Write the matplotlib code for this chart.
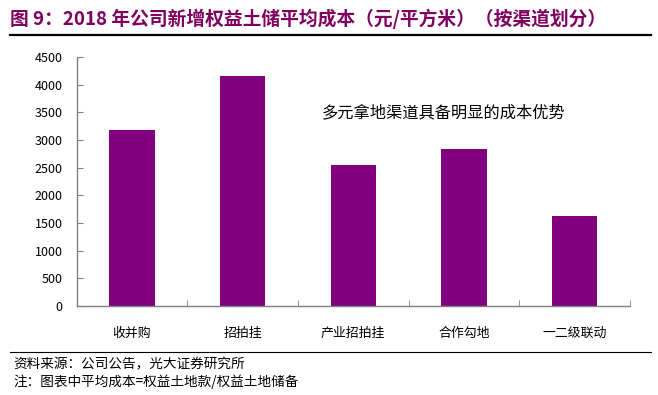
import matplotlib
matplotlib.use("Agg")
import matplotlib.pyplot as plt
from matplotlib.lines import Line2D

plt.rcParams['font.family'] = ['Noto Sans CJK SC', 'DejaVu Sans']

categories = ["收并购", "招拍挂", "产业招拍挂", "合作勾地", "一二级联动"]
values = [3180, 4160, 2550, 2840, 1630]
yticks = [0, 500, 1000, 1500, 2000, 2500, 3000, 3500, 4000, 4500]

title = "图 9：2018 年公司新增权益土储平均成本（元/平方米）（按渠道划分）"
annotation = "多元拿地渠道具备明显的成本优势"
source = "资料来源：公司公告，光大证券研究所"
note = "注：图表中平均成本=权益土地款/权益土地储备"

fig = plt.figure(figsize=(6.58, 3.95), dpi=100)
ax = fig.add_axes([0.1163, 0.2253, 0.8411, 0.6304])

x = list(range(len(categories)))
ax.bar(x, values, width=0.41, color='#800080')

ax.set_xlim(-0.5, len(categories) - 0.5)
ax.set_ylim(0, 4500)
ax.set_yticks(yticks)
ax.set_yticklabels([str(v) for v in yticks], fontsize=9)
ax.set_xticks(x)
ax.set_xticklabels(categories, fontsize=9.3)
ax.set_xticks([i - 0.5 for i in range(len(categories) + 1)], minor=True)

for s in ['top', 'right']:
    ax.spines[s].set_visible(False)
for s in ['left', 'bottom']:
    ax.spines[s].set_color('#808080')
    ax.spines[s].set_linewidth(1.0)

ax.tick_params(axis='x', which='major', length=0, pad=15)
ax.tick_params(axis='x', which='minor', direction='in', length=4, color='#808080')
ax.tick_params(axis='y', direction='in', length=4, color='#808080', pad=10)

ax.text(1.72, 3500, annotation, fontsize=11.7, va='center', ha='left', color='black')

fig.text(0.015, 0.953, title, fontsize=13.5, fontweight='bold', color='#800060',
         va='center', ha='left')
fig.add_artist(Line2D([0.015, 0.99], [0.911, 0.911], color='black', lw=1.6,
                      transform=fig.transFigure))
fig.add_artist(Line2D([0.015, 0.99], [0.109, 0.109], color='black', lw=0.8,
                      transform=fig.transFigure))
fig.text(0.02, 0.077, source, fontsize=9.8, va='center', ha='left', color='black')
fig.text(0.02, 0.034, note, fontsize=9.8, va='center', ha='left', color='black')

fig.savefig("out.png", dpi=100)
